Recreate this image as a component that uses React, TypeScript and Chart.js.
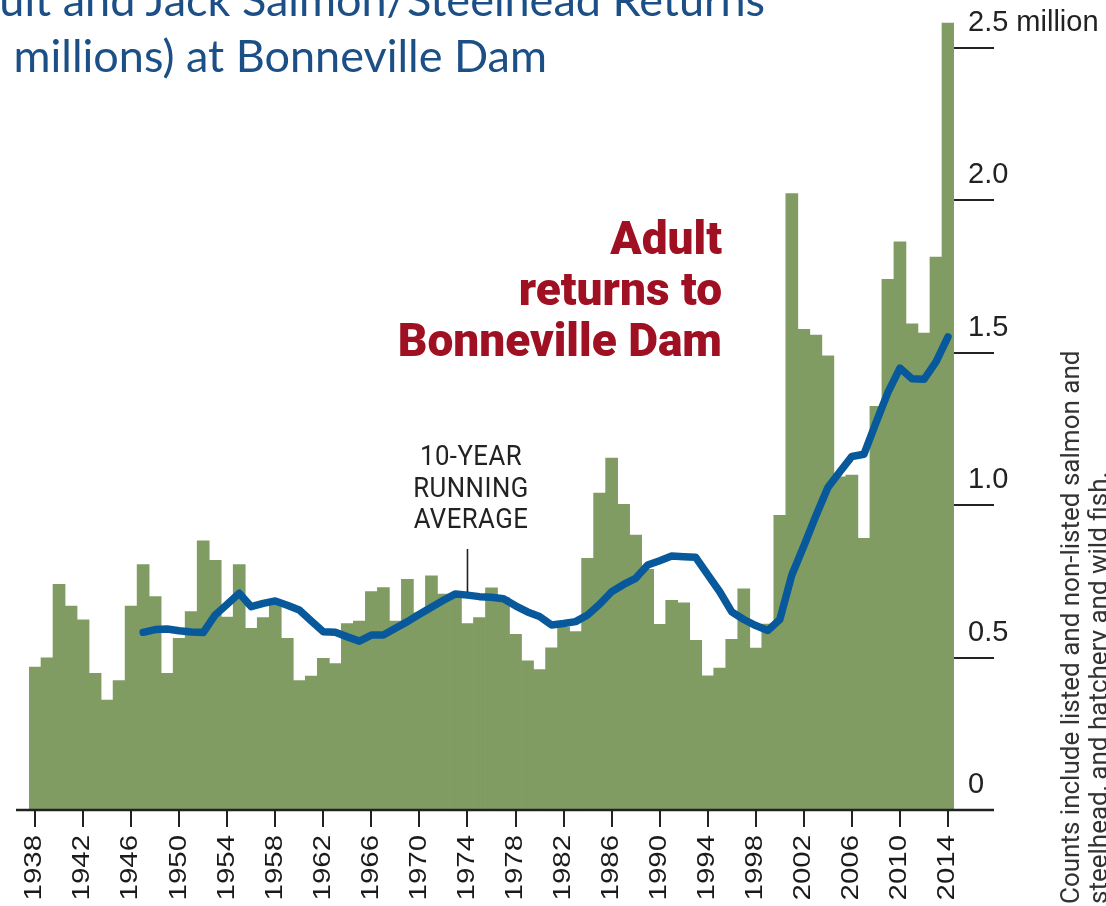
import React, { useEffect, useRef } from "react";
import { Chart, registerables } from "chart.js";

Chart.register(...registerables);

const years: string[] = [
  "1938", "1939", "1940", "1941", "1942", "1943", "1944", "1945", "1946", "1947",
  "1948", "1949", "1950", "1951", "1952", "1953", "1954", "1955", "1956", "1957",
  "1958", "1959", "1960", "1961", "1962", "1963", "1964", "1965", "1966", "1967",
  "1968", "1969", "1970", "1971", "1972", "1973", "1974", "1975", "1976", "1977",
  "1978", "1979", "1980", "1981", "1982", "1983", "1984", "1985", "1986", "1987",
  "1988", "1989", "1990", "1991", "1992", "1993", "1994", "1995", "1996", "1997",
  "1998", "1999", "2000", "2001", "2002", "2003", "2004", "2005", "2006", "2007",
  "2008", "2009", "2010", "2011", "2012", "2013", "2014",
];

// Adult returns (millions), 1938-2014
const adultReturns: number[] = [
  0.469, 0.499, 0.74, 0.669, 0.624, 0.448, 0.361, 0.425, 0.669, 0.805,
  0.7, 0.448, 0.563, 0.651, 0.883, 0.819, 0.633, 0.805, 0.596, 0.631,
  0.688, 0.563, 0.425, 0.439, 0.498, 0.48, 0.612, 0.62, 0.717, 0.73,
  0.62, 0.757, 0.647, 0.768, 0.708, 0.699, 0.612, 0.631, 0.729, 0.697,
  0.576, 0.489, 0.461, 0.532, 0.6, 0.585, 0.826, 1.04, 1.155, 1.003,
  0.902, 0.79, 0.609, 0.688, 0.68, 0.557, 0.44, 0.466, 0.56, 0.726,
  0.531, 0.61, 0.967, 2.022, 1.577, 1.558, 1.49, 1.093, 1.099, 0.891,
  1.324, 1.741, 1.864, 1.595, 1.565, 1.814, 2.582,
];

// 10-year running average (millions), 1938-2014 (none before 1947)
const runningAverage: (number | null)[] = [
  null, null, null, null, null, null, null, null, null, 0.583,
  0.592, 0.594, 0.588, 0.584, 0.582, 0.64, 0.675, 0.711, 0.667, 0.678,
  0.686, 0.672, 0.656, 0.62, 0.585, 0.583, 0.568, 0.554, 0.574, 0.574,
  0.596, 0.618, 0.642, 0.665, 0.688, 0.709, 0.705, 0.7, 0.698, 0.693,
  0.67, 0.65, 0.635, 0.607, 0.612, 0.618, 0.64, 0.675, 0.716, 0.74,
  0.76, 0.804, 0.818, 0.833, 0.831, 0.829, 0.772, 0.716, 0.65, 0.625,
  0.605, 0.589, 0.625, 0.771, 0.866, 0.965, 1.058, 1.11, 1.16, 1.167,
  1.27, 1.37, 1.45, 1.415, 1.413, 1.47, 1.552,
];

const xTickLabels: string[] = [
  "1938", "1942", "1946", "1950", "1954", "1958", "1962", "1966", "1970", "1974",
  "1978", "1982", "1986", "1990", "1994", "1998", "2002", "2006", "2010", "2014",
];

const yTicks: number[] = [0, 0.5, 1, 1.5, 2, 2.5];
const yTickLabels: string[] = ["0", "0.5", "1.0", "1.5", "2.0", "2.5 million"];

const pointerYear = "1974";

const overlayPlugin = {
  id: "overlayLines",
  afterDatasetsDraw(chart: any) {
    const ctx = chart.ctx;
    const xs = chart.scales.x;
    const ys = chart.scales.y;
    const y0 = ys.getPixelForValue(0);
    ctx.save();
    ctx.strokeStyle = "#222";
    ctx.lineWidth = 2.5;
    ctx.beginPath();
    ctx.moveTo(16, y0);
    ctx.lineTo(994, y0);
    ctx.stroke();
    const idx = years.indexOf(pointerYear);
    const px = xs.getPixelForValue(idx);
    const py = ys.getPixelForValue(runningAverage[idx] as number);
    ctx.lineWidth = 1.6;
    ctx.beginPath();
    ctx.moveTo(px, 549);
    ctx.lineTo(px, py - 3);
    ctx.stroke();
    ctx.restore();
  },
  afterDraw(chart: any) {
    // x tick labels, rotated and slightly stretched along the text direction
    const ctx = chart.ctx;
    const xs = chart.scales.x;
    const top = xs.top + 17 + 8;
    ctx.save();
    ctx.fillStyle = "#1a1a1a";
    ctx.font = "23px 'Liberation Sans', Arial, sans-serif";
    ctx.textAlign = "right";
    ctx.textBaseline = "middle";
    xs.ticks.forEach((t: any, i: number) => {
      const px = xs.getPixelForTick(i);
      ctx.save();
      ctx.translate(px, top);
      ctx.rotate(-Math.PI / 2);
      ctx.scale(1.28, 1);
      ctx.fillText(years[t.value], 0, 0);
      ctx.restore();
    });
    ctx.restore();
  },
};

export default function App() {
  const canvasRef = useRef<HTMLCanvasElement | null>(null);

  useEffect(() => {
    const canvas = canvasRef.current;
    if (!canvas) return;
    const chart = new Chart(canvas, {
      type: "bar",
      data: {
        labels: years,
        datasets: [
          {
            type: "line",
            label: "10-year running average",
            data: runningAverage,
            borderColor: "#08599c",
            borderWidth: 7.5,
            pointRadius: 0,
            tension: 0,
            borderCapStyle: "round",
            borderJoinStyle: "round",
            order: 0,
          } as any,
          {
            type: "bar",
            label: "Adult returns",
            data: adultReturns,
            backgroundColor: "#809c62",
            borderWidth: 0,
            barPercentage: 1,
            categoryPercentage: 1,
            order: 1,
          } as any,
        ],
      },
      options: {
        animation: false,
        responsive: false,
        maintainAspectRatio: false,
        layout: { padding: { left: 29, top: 0, right: 0, bottom: 0 } },
        plugins: {
          legend: { display: false },
          tooltip: { enabled: false },
        },
        scales: {
          x: {
            type: "category",
            offset: true,
            grid: {
              display: true,
              drawOnChartArea: false,
              drawTicks: true,
              tickLength: 17,
              color: "#222",
              lineWidth: 2,
              offset: false,
            },
            border: { display: true, color: "#222", width: 2 },
            ticks: {
              display: false,
              autoSkip: false,
            },
            afterBuildTicks: (scale: any) => {
              scale.ticks = scale.ticks.filter((t: any) => xTickLabels.includes(years[t.value]));
            },
            afterFit: (scale: any) => {
              scale.height = 96;
              scale.paddingLeft = 0;
              scale.paddingRight = 0;
            },
          },
          y: {
            position: "right",
            min: 0,
            max: 2.6575,
            afterBuildTicks: (scale: any) => {
              scale.ticks = yTicks.map((v) => ({ value: v }));
            },
            grid: {
              display: true,
              drawOnChartArea: false,
              drawTicks: true,
              tickLength: 40,
              color: "#222",
              lineWidth: 2,
            },
            border: { display: false },
            ticks: {
              padding: -26,
              labelOffset: -25,
              color: "#222",
              font: { family: "'Liberation Sans', Arial, sans-serif", size: 29 },
              callback: (value: any) => {
                const i = yTicks.indexOf(Number(value));
                return i >= 0 ? yTickLabels[i] : "";
              },
            },
            afterFit: (scale: any) => {
              scale.width = 152;
              scale.paddingTop = 0;
              scale.paddingBottom = 0;
            },
          },
        },
      } as any,
      plugins: [overlayPlugin],
    });
    return () => chart.destroy();
  }, []);

  return (
    <div
      style={{
        position: "fixed",
        left: 0,
        top: 0,
        width: 1106,
        height: 906,
        overflow: "hidden",
        background: "#ffffff",
      }}
    >
      <canvas
        ref={canvasRef}
        width={1106}
        height={906}
        style={{ position: "absolute", left: 0, top: 0, width: 1106, height: 906 }}
      />
      <div
        style={{
          position: "absolute",
          right: 341,
          top: -23,
          whiteSpace: "nowrap",
          fontFamily: "Lato, 'Open Sans', sans-serif",
          fontSize: 45,
          lineHeight: "45px",
          color: "#1b4f86",
        }}
      >
        Adult and Jack Salmon/Steelhead Returns
      </div>
      <div
        style={{
          position: "absolute",
          right: 559,
          top: 33,
          whiteSpace: "nowrap",
          fontFamily: "Lato, 'Open Sans', sans-serif",
          fontSize: 45,
          lineHeight: "45px",
          color: "#1b4f86",
        }}
      >
        (in millions) at Bonneville Dam
      </div>
      <div
        style={{
          position: "absolute",
          right: 1106 - 722,
          top: 213,
          whiteSpace: "nowrap",
          textAlign: "right",
          fontFamily: "Roboto, sans-serif",
          fontWeight: 900,
          fontSize: 46,
          lineHeight: "51px",
          color: "#9e1022",
        }}
      >
        Adult
        <br />
        returns to
        <br />
        Bonneville Dam
      </div>
      <div
        style={{
          position: "absolute",
          left: 371,
          width: 200,
          top: 440,
          textAlign: "center",
          whiteSpace: "nowrap",
          fontFamily: "Roboto, sans-serif",
          fontSize: 28,
          lineHeight: "31.5px",
          color: "#222",
          letterSpacing: "0.5px",
          transform: "scaleX(0.92)",
          transformOrigin: "50% 0",
        }}
      >
        10-YEAR
        <br />
        RUNNING
        <br />
        AVERAGE
      </div>
      <div
        style={{
          position: "absolute",
          left: 1055.5,
          top: 904,
          whiteSpace: "nowrap",
          fontFamily: "Roboto, sans-serif",
          fontSize: 26,
          lineHeight: "28px",
          color: "#333",
          transform: "rotate(-90deg)",
          transformOrigin: "0 0",
        }}
      >
        Counts include listed and non-listed salmon and
        <br />
        steelhead, and hatchery and wild fish.
      </div>
    </div>
  );
}
